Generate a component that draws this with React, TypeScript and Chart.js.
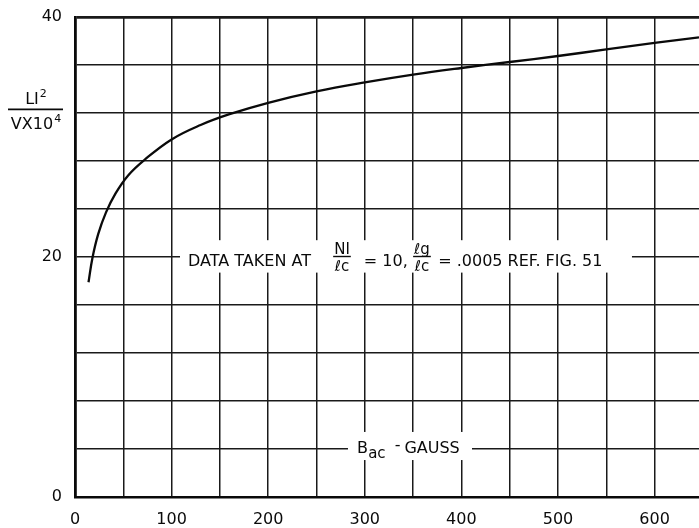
import React, { useEffect, useRef } from 'react';
import { Chart, registerables } from 'chart.js';

Chart.register(...registerables);

// B_ac (gauss) along x, LI^2/(V x 10^4) along y
const bGauss = [14, 18, 24, 32, 42, 55, 72, 100, 130, 160, 200, 250, 300, 350, 400, 450, 500, 550, 600, 646];
const ratio = [17.9, 19.9, 21.9, 23.7, 25.3, 26.8, 28.1, 29.8, 31.0, 31.9, 32.85, 33.8, 34.55, 35.2, 35.75, 36.25, 36.75, 37.3, 37.85, 38.3];

const xTickLabels = [0, 100, 200, 300, 400, 500, 600];
const yTickLabels = [0, 20, 40];

const FONT = '"DejaVu Sans", sans-serif';
const INK = '#0a0a0a';

const annotations = {
  id: 'annotations',
  afterDraw(chart: any) {
    const { ctx, scales } = chart;
    const x = scales.x;
    const y = scales.y;
    const px = (v: number) => x.getPixelForValue(v);
    const py = (v: number) => y.getPixelForValue(v);
    ctx.save();

    // white backing boxes breaking the grid
    ctx.fillStyle = '#fff';
    ctx.fillRect(px(108.7), py(21.4), px(576.6) - px(108.7), py(18.7) - py(21.4));
    ctx.fillRect(px(282.6), py(5.42), px(411) - px(282.6), py(3.08) - py(5.42));

    ctx.fillStyle = INK;
    ctx.strokeStyle = INK;
    ctx.textBaseline = 'alphabetic';

    // main annotation
    const base = py(20) + 8.5;
    ctx.font = `16px ${FONT}`;
    ctx.textAlign = 'left';
    ctx.fillText('DATA TAKEN AT', px(117), base);

    const frac = (cxv: number, top: string, bottom: string) => {
      const cx = px(cxv);
      ctx.font = `15px ${FONT}`;
      ctx.textAlign = 'center';
      const w = Math.max(ctx.measureText(top).width, ctx.measureText(bottom).width) + 2;
      ctx.fillText(top, cx, py(20) - 3);
      ctx.fillText(bottom, cx, py(20) + 14);
      ctx.lineWidth = 1.4;
      ctx.beginPath();
      ctx.moveTo(cx - w / 2, py(20) - 0.5);
      ctx.lineTo(cx + w / 2, py(20) - 0.5);
      ctx.stroke();
    };
    frac(276.4, 'NI', 'ℓc');
    ctx.font = `16px ${FONT}`;
    ctx.textAlign = 'left';
    ctx.fillText('= 10,', px(299), base);
    frac(359.2, 'ℓg', 'ℓc');
    ctx.font = `16px ${FONT}`;
    ctx.textAlign = 'left';
    ctx.fillText('= .0005 REF. FIG. 51', px(376), base);

    // x axis title in plot
    const bBase = py(4) + 3.5;
    ctx.font = `16px ${FONT}`;
    ctx.fillText('B', px(292), bBase);
    ctx.font = `15px ${FONT}`;
    ctx.fillText('ac', px(303.5), bBase + 5);
    ctx.font = `16px ${FONT}`;
    ctx.fillText('-', px(331), bBase - 3);
    ctx.fillText('GAUSS', px(341), bBase);

    // y axis title (fraction)
    const area = chart.chartArea;
    const ly = py(32.3);
    ctx.textAlign = 'left';
    ctx.font = `16px ${FONT}`;
    const l1 = 'LI';
    const w1 = ctx.measureText(l1).width;
    ctx.font = `11px ${FONT}`;
    const s1 = ctx.measureText('2').width;
    const start1 = 36 - (w1 + s1 + 1) / 2;
    ctx.font = `16px ${FONT}`;
    ctx.fillText(l1, start1, ly - 5);
    ctx.font = `11px ${FONT}`;
    ctx.fillText('2', start1 + w1 + 1, ly - 12);

    ctx.font = `16px ${FONT}`;
    const l2 = 'VX10';
    const w2 = ctx.measureText(l2).width;
    ctx.font = `11px ${FONT}`;
    const s2 = ctx.measureText('4').width;
    const start2 = 36 - (w2 + s2 + 1) / 2;
    ctx.font = `16px ${FONT}`;
    ctx.fillText(l2, start2, ly + 20);
    ctx.font = `11px ${FONT}`;
    ctx.fillText('4', start2 + w2 + 1, ly + 13);

    ctx.lineWidth = 1.6;
    ctx.beginPath();
    ctx.moveTo(8, ly);
    ctx.lineTo(area.left - 12, ly);
    ctx.stroke();

    ctx.restore();
  },
};

export default function App() {
  const ref = useRef<HTMLCanvasElement | null>(null);

  useEffect(() => {
    if (!ref.current) return;
    const chart = new Chart(ref.current, {
      type: 'line',
      data: {
        datasets: [
          {
            data: bGauss.map((b, i) => ({ x: b, y: ratio[i] })),
            borderColor: INK,
            borderWidth: 2.3,
            pointRadius: 0,
            fill: false,
            tension: 0.4,
          },
        ],
      },
      options: {
        animation: false,
        responsive: true,
        maintainAspectRatio: false,
        layout: { padding: { top: 17, right: 0, bottom: 0, left: 0 } },
        plugins: { legend: { display: false }, tooltip: { enabled: false } },
        scales: {
          x: {
            type: 'linear',
            min: 0,
            max: 646,
            afterFit: (s: any) => {
              s.height = 31;
            },
            ticks: {
              stepSize: 50,
              includeBounds: false,
              autoSkip: false,
              maxRotation: 0,
              padding: 13,
              color: INK,
              font: { family: FONT, size: 16 },
              callback: (v: any) => (xTickLabels.includes(Number(v)) ? String(v) : ''),
            },
            grid: {
              drawTicks: false,
              color: '#1a1a1a',
              lineWidth: 1.5,
            },
            border: { display: true, color: INK, width: 2.5 },
          },
          y: {
            min: 0,
            max: 40,
            afterFit: (s: any) => {
              s.width = 75;
              s.paddingTop = 0;
            },
            ticks: {
              stepSize: 4,
              autoSkip: false,
              padding: 13,
              color: INK,
              font: { family: FONT, size: 16 },
              callback: (v: any) => (yTickLabels.includes(Number(v)) ? String(v) : ''),
            },
            grid: {
              drawTicks: false,
              color: '#1a1a1a',
              lineWidth: (c: any) => (c.tick && c.tick.value === 40 ? 2.8 : 1.5),
            },
            border: { display: true, color: INK, width: 2.8 },
          },
        },
      },
      plugins: [annotations],
    } as any);
    return () => chart.destroy();
  }, []);

  return (
    <div style={{ position: 'fixed', left: 0, top: 0, width: 699, height: 528, background: '#fff' }}>
      <canvas ref={ref} />
    </div>
  );
}
